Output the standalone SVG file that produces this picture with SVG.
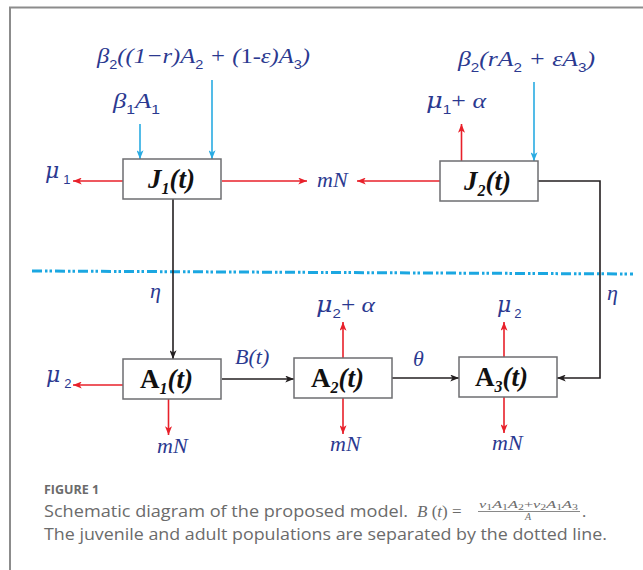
<svg xmlns="http://www.w3.org/2000/svg" width="643" height="570" viewBox="0 0 643 570">
<style>
.frame{fill:none;stroke:#8c8c8c;stroke-width:2}
.box{fill:#fff;stroke:#6d6e71;stroke-width:1.5}
.nl{font-family:"Liberation Serif",serif;font-weight:bold;font-style:italic;font-size:27px;fill:#111}
.up{font-style:normal}
.ns{font-size:16px}
.m{font-family:"Liberation Serif",serif;font-style:italic;font-size:22px;fill:#2b3990}
.mu{font-family:"DejaVu Serif",serif;font-style:italic}
.sb{font-family:"Liberation Sans",sans-serif;font-style:normal;font-size:13px}
.red{stroke:#e8202a;stroke-width:1.6;fill:none}
.blu{stroke:#29abe2;stroke-width:1.6;fill:none}
.blk{stroke:#231f20;stroke-width:1.6;fill:none}
.dash{stroke:#1ba7e1;stroke-width:3;stroke-dasharray:10 3 2.5 2 2.5 3;fill:none}
.cap{font-family:"Open Sans",sans-serif;fill:#6b6b6b;font-size:17px}
.capb{font-family:"Open Sans",sans-serif;fill:#6b6b6b;font-size:12.5px;font-weight:bold}
.cm{font-family:"Liberation Serif",serif;fill:#6b6b6b}
</style>
<defs>
<marker id="ar" viewBox="0 0 10 8" refX="10" refY="4" markerWidth="9" markerHeight="7" markerUnits="userSpaceOnUse" orient="auto"><path d="M0,0 L10,4 L0,8 L2.5,4 z" fill="#e8202a"/></marker>
<marker id="ab" viewBox="0 0 10 8" refX="10" refY="4" markerWidth="9" markerHeight="7" markerUnits="userSpaceOnUse" orient="auto"><path d="M0,0 L10,4 L0,8 L2.5,4 z" fill="#29abe2"/></marker>
<marker id="ak" viewBox="0 0 10 8" refX="10" refY="4" markerWidth="9" markerHeight="7" markerUnits="userSpaceOnUse" orient="auto"><path d="M0,0 L10,4 L0,8 L2.5,4 z" fill="#231f20"/></marker>
</defs>
<rect width="643" height="570" fill="#fff"/>
<path class="frame" d="M10,570 V7.5 H643"/>
<path class="dash" d="M32,271 L633,274"/>

<g id="connectors">
<path class="blu" d="M140,124 V159" marker-end="url(#ab)"/>
<path class="blu" d="M212,80 V159" marker-end="url(#ab)"/>
<path class="blu" d="M534,82 V161" marker-end="url(#ab)"/>
<path class="red" d="M461.5,161 V124" marker-end="url(#ar)"/>
<path class="red" d="M123,181 H73" marker-end="url(#ar)"/>
<path class="red" d="M222,181 H307" marker-end="url(#ar)"/>
<path class="red" d="M440,181 H357" marker-end="url(#ar)"/>
<path class="blk" d="M173,199 V359" marker-end="url(#ak)"/>
<path class="blk" d="M538,181 H600 V378 H557" marker-end="url(#ak)"/>
<path class="red" d="M123,385 H73" marker-end="url(#ar)"/>
<path class="red" d="M168.5,399 V435" marker-end="url(#ar)"/>
<path class="blk" d="M222,379 H294" marker-end="url(#ak)"/>
<path class="red" d="M343,358 V322" marker-end="url(#ar)"/>
<path class="red" d="M343,398 V434" marker-end="url(#ar)"/>
<path class="blk" d="M392,378 H459" marker-end="url(#ak)"/>
<path class="red" d="M504,357 V322" marker-end="url(#ar)"/>
<path class="red" d="M504,397 V433" marker-end="url(#ar)"/>
</g>

<g id="J1"><rect class="box" x="123" y="159" width="98" height="40"/>
<text class="nl" x="148" y="188">J<tspan class="ns" dy="6">1</tspan><tspan dy="-6">(t)</tspan></text></g>
<g id="J2"><rect class="box" x="440" y="161" width="98" height="40"/>
<text class="nl" x="464" y="190">J<tspan class="ns" dy="6">2</tspan><tspan dy="-6">(t)</tspan></text></g>
<g id="A1"><rect class="box" x="123" y="359" width="98" height="40"/>
<text class="nl" x="140" y="388"><tspan class="up">A</tspan><tspan class="ns" dy="6">1</tspan><tspan dy="-6">(t)</tspan></text></g>
<g id="A2"><rect class="box" x="294" y="358" width="98" height="40"/>
<text class="nl" x="311" y="387"><tspan class="up">A</tspan><tspan class="ns" dy="6">2</tspan><tspan dy="-6">(t)</tspan></text></g>
<g id="A3"><rect class="box" x="459" y="357" width="98" height="40"/>
<text class="nl" x="475" y="386"><tspan class="up">A</tspan><tspan class="ns" dy="6">3</tspan><tspan dy="-6">(t)</tspan></text></g>

<g id="labels">
<text class="m" x="97" y="63" textLength="213" lengthAdjust="spacingAndGlyphs">β<tspan class="sb" dy="6">2</tspan><tspan dy="-6">((1−r)A</tspan><tspan class="sb" dy="6">2</tspan><tspan dy="-6"> + (</tspan><tspan style="font-style:normal">1-</tspan>ε)A<tspan class="sb" dy="6">3</tspan><tspan dy="-6">)</tspan></text>
<text class="m" x="458" y="66" textLength="137" lengthAdjust="spacingAndGlyphs">β<tspan class="sb" dy="6">2</tspan><tspan dy="-6">(rA</tspan><tspan class="sb" dy="6">2</tspan><tspan dy="-6"> + εA</tspan><tspan class="sb" dy="6">3</tspan><tspan dy="-6">)</tspan></text>
<text class="m" x="113" y="108" textLength="47" lengthAdjust="spacingAndGlyphs">β<tspan class="sb" dy="6">1</tspan><tspan dy="-6">A</tspan><tspan class="sb" dy="6">1</tspan></text>
<text class="m" x="426" y="108" textLength="60" lengthAdjust="spacingAndGlyphs"><tspan class="mu">μ</tspan><tspan class="sb" dy="6">1</tspan><tspan dy="-6" style="font-style:normal">+</tspan> α</text>
<text class="m" x="45" y="178"><tspan class="mu">μ</tspan><tspan class="sb" dx="4" dy="6">1</tspan></text>
<text class="m" x="317" y="187" font-size="19">mN</text>
<text class="m" x="150" y="298">η</text>
<text class="m" x="607" y="300">η</text>
<text class="m" x="46" y="382"><tspan class="mu">μ</tspan><tspan class="sb" dx="4" dy="6">2</tspan></text>
<text class="m" x="157" y="453" font-size="19">mN</text>
<text class="m" x="235" y="364">B(t)</text>
<text class="m" x="316" y="312" textLength="59" lengthAdjust="spacingAndGlyphs"><tspan class="mu">μ</tspan><tspan class="sb" dy="6">2</tspan><tspan dy="-6" style="font-style:normal">+</tspan> α</text>
<text class="m" x="330" y="451" font-size="19">mN</text>
<text class="m" x="413" y="366">θ</text>
<text class="m" x="497" y="312"><tspan class="mu">μ</tspan><tspan class="sb" dx="3" dy="6">2</tspan></text>
<text class="m" x="492" y="450" font-size="19">mN</text>
</g>

<g id="caption">
<text class="capb" x="44" y="494">FIGURE 1</text>
<text class="cap" x="44" y="517" textLength="364" lengthAdjust="spacingAndGlyphs">Schematic diagram of the proposed model.</text>
<text class="cm" x="417" y="517" font-size="17"><tspan font-style="italic">B</tspan> (<tspan font-style="italic">t</tspan>) =</text>
<text class="cm" x="479" y="507.5" font-size="11" font-style="italic" textLength="99" lengthAdjust="spacingAndGlyphs">v<tspan font-style="normal" font-size="8" dy="2">1</tspan><tspan dy="-2">A</tspan><tspan font-style="normal" font-size="8" dy="2">1</tspan><tspan dy="-2">A</tspan><tspan font-style="normal" font-size="8" dy="2">2</tspan><tspan dy="-2" font-style="normal">+</tspan>v<tspan font-style="normal" font-size="8" dy="2">2</tspan><tspan dy="-2">A</tspan><tspan font-style="normal" font-size="8" dy="2">1</tspan><tspan dy="-2">A</tspan><tspan font-style="normal" font-size="8" dy="2">3</tspan></text>
<path d="M478,511.5 H580" stroke="#6b6b6b" stroke-width="0.8"/>
<text class="cm" x="525" y="519.5" font-size="10" font-style="italic">A</text>
<text class="cm" x="582" y="517" font-size="17">.</text>
<text class="cap" x="44" y="540" textLength="563" lengthAdjust="spacingAndGlyphs">The juvenile and adult populations are separated by the dotted line.</text>
</g>
</svg>
